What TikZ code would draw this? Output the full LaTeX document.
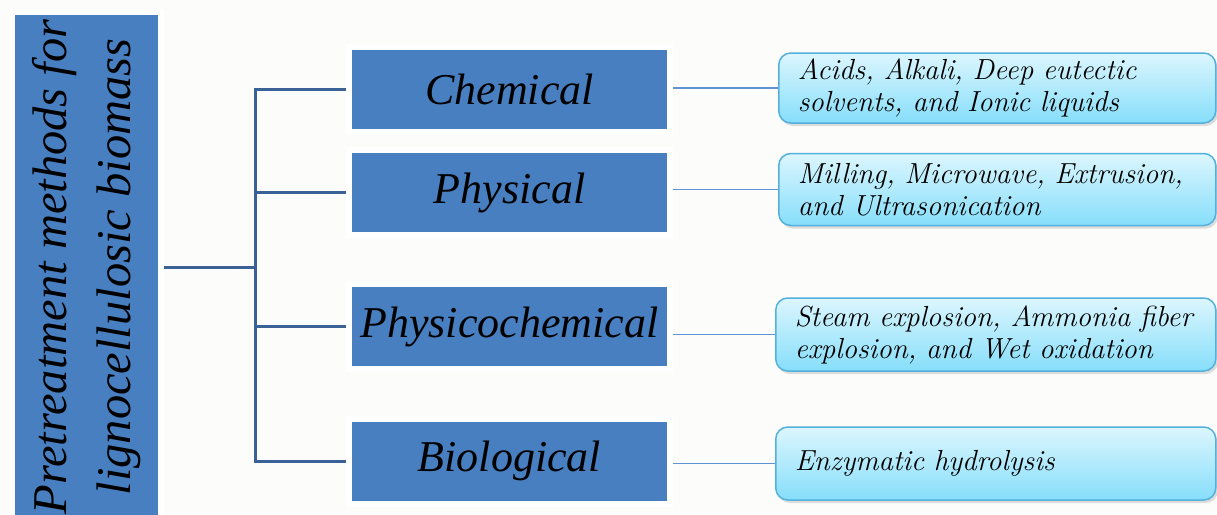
\documentclass[tikz,border=0pt]{standalone}
\usepackage{fontspec}
\newfontfamily\tnr{Liberation Serif}
\usetikzlibrary{shadows}
\definecolor{bg}{RGB}{252,252,250}
\definecolor{boxblue}{RGB}{71,127,193}
\definecolor{trunkcol}{RGB}{58,98,150}
\definecolor{conncol}{RGB}{96,146,212}
\definecolor{ctop}{RGB}{220,246,254}
\definecolor{cbot}{RGB}{134,222,250}
\definecolor{cedge}{RGB}{84,176,220}
\begin{document}
\begin{tikzpicture}[x=1pt,y=-1pt,
  mainbox/.style={draw=white, line width=6pt, fill=boxblue, inner sep=0pt,
    drop shadow={shadow xshift=2pt, shadow yshift=-3pt, opacity=0.3}},
  catbox/.style={mainbox, minimum width=321pt, minimum height=85pt,
    font=\tnr\itshape\fontsize{44}{50}\selectfont},
  rootbox/.style={mainbox, rotate=90, minimum width=510pt, minimum height=149pt,
    align=center, font=\tnr\itshape\fontsize{48.5}{64}\selectfont},
  leafbox/.style={draw=cedge, line width=1.5pt, rounded corners=12pt,
    top color=ctop, bottom color=cbot, anchor=west, inner xsep=19pt, inner ysep=0pt,
    align=left, font=\itshape\fontsize{29}{32}\selectfont,
    drop shadow={shadow xshift=2pt, shadow yshift=-3pt, opacity=0.25}},
  trunk/.style={draw=trunkcol, line width=3pt},
  conn/.style={draw=conncol, line width=1.6pt}
]
\fill[bg] (0,0) rectangle (1217,514);
\useasboundingbox (0,0) rectangle (1217,514);

\coordinate (jun) at (255,267);

\node[rootbox] (root) at (86.5,267) {Pretreatment methods for\\lignocellulosic biomass};

\node[catbox] (m1) at (509.5,89.5) {Chemical};
\node[catbox] (m2) at (509.5,192.5) {Physical};
\node[catbox] (m3) at (509.5,326.5) {Physicochemical};
\node[catbox] (m4) at (509.5,461) {Biological};

\node[leafbox, text width=399pt, minimum height=70pt] (r1) at (778,88) {\mbox{Acids, Alkali, Deep eutectic}\\\mbox{solvents, and Ionic liquids}};
\node[leafbox, text width=399pt, minimum height=72pt] (r2) at (778,189.5) {\mbox{Milling, Microwave, Extrusion,}\\\mbox{and Ultrasonication}};
\node[leafbox, text width=402pt, minimum height=73pt] (r3) at (775,334.5) {\mbox{Steam explosion, Ammonia fiber}\\\mbox{explosion, and Wet oxidation}};
\node[leafbox, text width=402pt, minimum height=73pt] (r4) at (775,463.5) {\mbox{Enzymatic hydrolysis}};

\draw[trunk] (root.south) -- (jun);
\draw[trunk] (jun) |- (m1.west);
\draw[trunk] (jun) |- (m2.west);
\draw[trunk] (jun) |- (m3.west);
\draw[trunk] (jun) |- (m4.west);

\draw[conn] (m1.east |- r1.west) -- (r1.west);
\draw[conn] (m2.east |- r2.west) -- (r2.west);
\draw[conn] (m3.east |- r3.west) -- (r3.west);
\draw[conn] (m4.east |- r4.west) -- (r4.west);
\end{tikzpicture}
\end{document}
